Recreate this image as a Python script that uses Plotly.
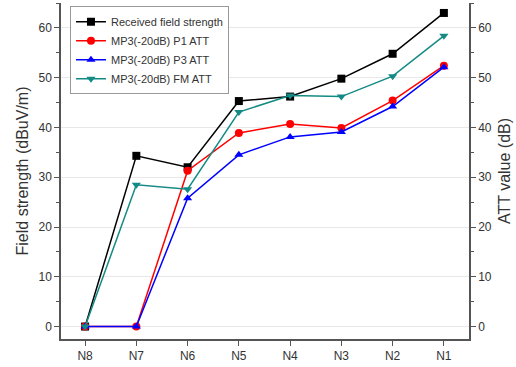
import plotly.graph_objects as go

nodes = ["N8", "N7", "N6", "N5", "N4", "N3", "N2", "N1"]
received = [0, 34.3, 32.0, 45.3, 46.2, 49.8, 54.8, 63.0]
p1_att = [0, 0, 31.3, 38.9, 40.7, 39.9, 45.4, 52.4]
p3_att = [0, 0, 25.8, 34.5, 38.1, 39.1, 44.2, 52.1]
fm_att = [0, 28.5, 27.6, 43.1, 46.4, 46.2, 50.3, 58.4]

series = [
    ("Received field strength", received, "#000000", "square"),
    ("MP3(-20dB) P1 ATT", p1_att, "#ff0000", "circle"),
    ("MP3(-20dB) P3 ATT", p3_att, "#0000ff", "triangle-up"),
    ("MP3(-20dB) FM ATT", fm_att, "#138a84", "triangle-down"),
]

fig = go.Figure()
for name, vals, color, sym in series:
    fig.add_trace(go.Scatter(
        x=nodes, y=vals, name=name, mode="lines+markers",
        line=dict(color=color, width=1.5),
        marker=dict(symbol=sym, size=8, color=color),
    ))

# secondary axis mirrors the left scale for the ATT values
fig.add_trace(go.Scatter(x=nodes, y=received, yaxis="y2", mode="markers",
                         marker=dict(opacity=0), showlegend=False, hoverinfo="skip"))

axis_color = "#555555"
text_color = "#333333"
yrange = [-2.5, 65]
common_y = dict(
    range=yrange, dtick=10, tick0=0, ticks="outside", ticklen=5, tickwidth=1.2,
    tickcolor=axis_color, showline=True, linecolor=axis_color, linewidth=1.5,
    tickfont=dict(family="Arial", size=12, color=text_color),
    zeroline=False,
    minor=dict(dtick=5, ticks="outside", ticklen=3, tickcolor=axis_color, showgrid=False),
)

fig.update_layout(
    width=516, height=367,
    margin=dict(l=61, r=47, t=3, b=28),
    paper_bgcolor="white", plot_bgcolor="white",
    font=dict(family="Arial", color=text_color),
    xaxis=dict(
        type="category", range=[-0.47, 7.49], ticks="outside", ticklen=5,
        tickcolor=axis_color, tickwidth=1.2, showline=True, linecolor=axis_color,
        linewidth=1.5, showgrid=False,
        tickfont=dict(family="Arial", size=12, color=text_color),
    ),
    yaxis=dict(
        **common_y, showgrid=True, gridcolor="#e8e8e8", gridwidth=1,
        title=dict(text="Field strength (dBuV/m)",
                   font=dict(family="Arial", size=16, color=text_color), standoff=6),
    ),
    yaxis2=dict(
        **common_y, overlaying="y", side="right", showgrid=False,
        title=dict(text="ATT value (dB)",
                   font=dict(family="Arial", size=16, color=text_color), standoff=8),
    ),
    legend=dict(
        x=0.022, y=0.99, xanchor="left", yanchor="top",
        bgcolor="white", bordercolor="#999999", borderwidth=1,
        font=dict(family="Arial", size=11, color=text_color),
        tracegroupgap=0, itemwidth=30,
    ),
    showlegend=True,
)

fig.write_html("out.html")
